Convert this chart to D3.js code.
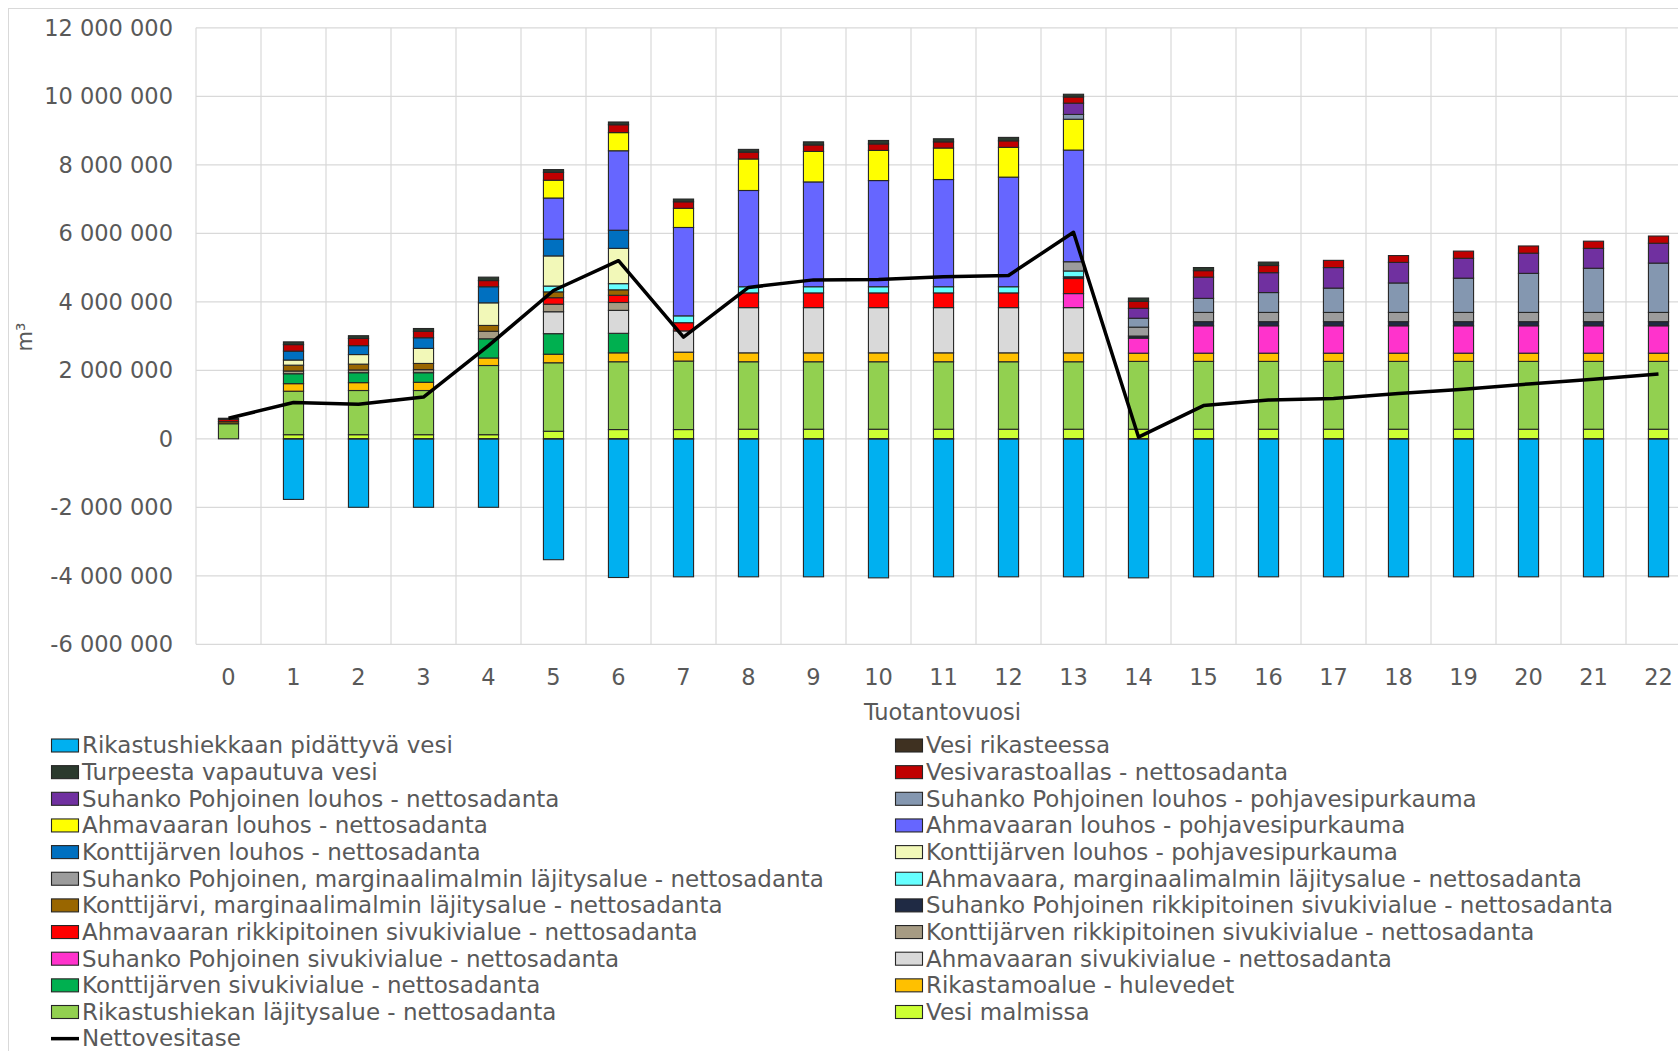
<!DOCTYPE html>
<html>
<head>
<meta charset="utf-8">
<script src="https://cdn.jsdelivr.net/npm/d3@7"></script>
<style>
  body { margin: 0; background: #fff; }
  svg { display: block; }
  text { font-family: "DejaVu Sans", Verdana, sans-serif; fill: #595959; }
</style>
</head>
<body>
<svg id="chart" width="1678" height="1051"></svg>
<script>
// Production years
const categories = ["0","1","2","3","4","5","6","7","8","9","10","11","12","13","14","15","16","17","18","19","20","21","22"];

// Annual water volumes, million m3 per production year
const rikastushiekkaanPidattyvaVesi = [0, -1.76, -1.99, -1.99, -1.99, -3.52, -4.04, -4.02, -4.02, -4.02, -4.05, -4.02, -4.02, -4.02, -4.05, -4.02, -4.02, -4.02, -4.02, -4.02, -4.02, -4.02, -4.02];
const vesiRikasteessa = [0, -0.01, -0.01, -0.01, -0.01, -0.01, -0.01, -0.01, -0.01, -0.01, -0.01, -0.01, -0.01, -0.01, -0.01, -0.01, -0.01, -0.01, -0.01, -0.01, -0.01, -0.01, -0.01];
const turpeestaVapautuvaVesi = [0.03, 0.08, 0.08, 0.08, 0.10, 0.08, 0.08, 0.08, 0.08, 0.09, 0.10, 0.09, 0.10, 0.08, 0.10, 0.09, 0.10, 0, 0, 0, 0, 0, 0];
const vesivarastoallas = [0.07, 0.19, 0.21, 0.19, 0.18, 0.23, 0.23, 0.19, 0.20, 0.19, 0.19, 0.18, 0.19, 0.18, 0.20, 0.19, 0.21, 0.21, 0.20, 0.21, 0.21, 0.21, 0.21];
const suhankoLouhosNetto = [0, 0, 0, 0, 0, 0, 0, 0, 0, 0, 0, 0, 0, 0.33, 0.29, 0.62, 0.58, 0.60, 0.60, 0.58, 0.59, 0.58, 0.58];
const suhankoLouhosPohjavesi = [0, 0, 0, 0, 0, 0, 0, 0, 0, 0, 0, 0, 0, 0.14, 0.26, 0.41, 0.58, 0.71, 0.86, 1.00, 1.14, 1.29, 1.44];
const ahmavaaraLouhosNetto = [0, 0, 0, 0, 0, 0.52, 0.53, 0.56, 0.92, 0.89, 0.88, 0.92, 0.87, 0.90, 0, 0, 0, 0, 0, 0, 0, 0, 0];
const ahmavaaraLouhosPohjavesi = [0, 0, 0, 0, 0, 1.20, 2.32, 2.58, 2.81, 3.06, 3.10, 3.13, 3.20, 3.26, 0, 0, 0, 0, 0, 0, 0, 0, 0];
const konttijarviLouhosNetto = [0, 0.26, 0.26, 0.31, 0.47, 0.49, 0.53, 0, 0, 0, 0, 0, 0, 0, 0, 0, 0, 0, 0, 0, 0, 0, 0];
const konttijarviLouhosPohjavesi = [0, 0.15, 0.28, 0.44, 0.66, 0.88, 1.03, 0, 0, 0, 0, 0, 0, 0, 0, 0, 0, 0, 0, 0, 0, 0, 0];
const suhankoMarginaali = [0, 0, 0, 0, 0, 0, 0, 0, 0, 0, 0, 0, 0, 0.27, 0.26, 0.27, 0.27, 0.27, 0.27, 0.27, 0.27, 0.27, 0.27];
const ahmavaaraMarginaali = [0, 0, 0, 0, 0, 0.17, 0.18, 0.20, 0.18, 0.18, 0.18, 0.18, 0.18, 0.17, 0, 0, 0, 0, 0, 0, 0, 0, 0];
const konttijarviMarginaali = [0.06, 0.17, 0.17, 0.18, 0.17, 0.17, 0.16, 0, 0, 0, 0, 0, 0, 0, 0, 0, 0, 0, 0, 0, 0, 0, 0];
const suhankoRikkipitoinen = [0, 0, 0, 0, 0, 0, 0, 0, 0, 0, 0, 0, 0, 0.05, 0.06, 0.12, 0.12, 0.12, 0.12, 0.12, 0.12, 0.12, 0.12];
const ahmavaaraRikkipitoinen = [0, 0, 0, 0, 0, 0.19, 0.21, 0.24, 0.43, 0.43, 0.43, 0.43, 0.43, 0.44, 0, 0, 0, 0, 0, 0, 0, 0, 0];
const konttijarviRikkipitoinen = [0, 0.08, 0.08, 0.09, 0.22, 0.22, 0.23, 0, 0, 0, 0, 0, 0, 0, 0, 0, 0, 0, 0, 0, 0, 0, 0];
const suhankoSivukivi = [0, 0, 0, 0, 0, 0, 0, 0, 0, 0, 0, 0, 0, 0.41, 0.44, 0.80, 0.80, 0.80, 0.80, 0.80, 0.80, 0.80, 0.80];
const ahmavaaraSivukivi = [0, 0, 0, 0, 0, 0.64, 0.67, 0.62, 1.32, 1.32, 1.32, 1.32, 1.32, 1.32, 0, 0, 0, 0, 0, 0, 0, 0, 0];
const konttijarviSivukivi = [0, 0.29, 0.29, 0.28, 0.56, 0.60, 0.57, 0, 0, 0, 0, 0, 0, 0, 0, 0, 0, 0, 0, 0, 0, 0, 0];
const rikastamoHulevedet = [0, 0.22, 0.23, 0.24, 0.22, 0.25, 0.26, 0.26, 0.26, 0.26, 0.26, 0.26, 0.26, 0.26, 0.24, 0.24, 0.24, 0.24, 0.24, 0.24, 0.24, 0.24, 0.24];
const rikastushiekanLajitysalue = [0.44, 1.27, 1.29, 1.29, 2.02, 2.00, 1.98, 2.00, 1.97, 1.97, 1.97, 1.97, 1.97, 1.97, 1.98, 1.98, 1.98, 1.98, 1.98, 1.98, 1.98, 1.98, 1.98];
const vesiMalmissa = [0, 0.12, 0.12, 0.12, 0.12, 0.22, 0.27, 0.27, 0.28, 0.28, 0.28, 0.28, 0.28, 0.28, 0.28, 0.28, 0.28, 0.28, 0.28, 0.28, 0.28, 0.28, 0.28];
const nettovesitase = [0.60, 1.06, 1.01, 1.22, 2.72, 4.33, 5.20, 2.97, 4.42, 4.64, 4.65, 4.73, 4.77, 6.03, 0.05, 0.97, 1.13, 1.18, 1.32, 1.45, 1.60, 1.74, 1.89];

// Y axis tick values (m3)
const yTicks = [-6000000, -4000000, -2000000, 0, 2000000, 4000000, 6000000, 8000000, 10000000, 12000000];

const UNIT = 1e6;

// Bar series in legend order
const barSeries = [
  { name: "Rikastushiekkaan pidättyvä vesi", values: rikastushiekkaanPidattyvaVesi, color: "#00b0f0" },
  { name: "Vesi rikasteessa", values: vesiRikasteessa, color: "#3f3121" },
  { name: "Turpeesta vapautuva vesi", values: turpeestaVapautuvaVesi, color: "#2b3a2e" },
  { name: "Vesivarastoallas - nettosadanta", values: vesivarastoallas, color: "#c00000" },
  { name: "Suhanko Pohjoinen louhos - nettosadanta", values: suhankoLouhosNetto, color: "#7030a0" },
  { name: "Suhanko Pohjoinen louhos - pohjavesipurkauma", values: suhankoLouhosPohjavesi, color: "#8497b0" },
  { name: "Ahmavaaran louhos - nettosadanta", values: ahmavaaraLouhosNetto, color: "#ffff00" },
  { name: "Ahmavaaran louhos - pohjavesipurkauma", values: ahmavaaraLouhosPohjavesi, color: "#6666ff" },
  { name: "Konttijärven louhos - nettosadanta", values: konttijarviLouhosNetto, color: "#0070c0" },
  { name: "Konttijärven louhos - pohjavesipurkauma", values: konttijarviLouhosPohjavesi, color: "#f2f8b8" },
  { name: "Suhanko Pohjoinen, marginaalimalmin läjitysalue - nettosadanta", values: suhankoMarginaali, color: "#9c9c9c" },
  { name: "Ahmavaara, marginaalimalmin läjitysalue - nettosadanta", values: ahmavaaraMarginaali, color: "#66ffff" },
  { name: "Konttijärvi, marginaalimalmin läjitysalue - nettosadanta", values: konttijarviMarginaali, color: "#996600" },
  { name: "Suhanko Pohjoinen rikkipitoinen sivukivialue - nettosadanta", values: suhankoRikkipitoinen, color: "#1f2a44" },
  { name: "Ahmavaaran rikkipitoinen sivukivialue - nettosadanta", values: ahmavaaraRikkipitoinen, color: "#ff0000" },
  { name: "Konttijärven rikkipitoinen sivukivialue - nettosadanta", values: konttijarviRikkipitoinen, color: "#a69b83" },
  { name: "Suhanko Pohjoinen sivukivialue - nettosadanta", values: suhankoSivukivi, color: "#ff33cc" },
  { name: "Ahmavaaran sivukivialue - nettosadanta", values: ahmavaaraSivukivi, color: "#d9d9d9" },
  { name: "Konttijärven sivukivialue - nettosadanta", values: konttijarviSivukivi, color: "#00b050" },
  { name: "Rikastamoalue - hulevedet", values: rikastamoHulevedet, color: "#ffc000" },
  { name: "Rikastushiekan läjitysalue - nettosadanta", values: rikastushiekanLajitysalue, color: "#92d050" },
  { name: "Vesi malmissa", values: vesiMalmissa, color: "#ccff33" }
];
const lineSeries = { name: "Nettovesitase", values: nettovesitase, color: "#000000" };

const svg = d3.select("#chart");

// Chart area frame
svg.append("rect")
  .attr("x", 8.5).attr("y", 8.5).attr("width", 1720).attr("height", 1100)
  .attr("fill", "#fff").attr("stroke", "#d9d9d9").attr("stroke-width", 1);

const plot = { left: 196, top: 27.8, bottom: 644.3, step: 65 };
plot.right = plot.left + plot.step * categories.length;

const x = d3.scaleBand()
  .domain(categories)
  .range([plot.left, plot.right])
  .paddingInner(0.69)
  .paddingOuter(0.345);

const y = d3.scaleLinear()
  .domain([yTicks[0], yTicks[yTicks.length - 1]])
  .range([plot.bottom, plot.top]);

const fiLocale = d3.formatLocale({ decimal: ",", thousands: " ", grouping: [3], currency: ["", " €"], minus: "-" });
const fmt = fiLocale.format(",d");

// Gridlines
const grid = svg.append("g");
grid.selectAll("line.h").data(yTicks).join("line")
  .attr("x1", plot.left).attr("x2", plot.right)
  .attr("y1", d => y(d)).attr("y2", d => y(d))
  .attr("stroke", "#d9d9d9").attr("stroke-width", 1.2);
const halfGap = (x.step() - x.bandwidth()) / 2;
const vBounds = categories.map(c => x(c) - halfGap).concat([x(categories[categories.length - 1]) + x.bandwidth() + halfGap]);
grid.selectAll("line.v").data(vBounds).join("line")
  .attr("x1", d => d).attr("x2", d => d)
  .attr("y1", plot.top).attr("y2", plot.bottom)
  .attr("stroke", "#d9d9d9").attr("stroke-width", 1.2);

// Stacked bars: bottom of the positive stack is the last legend entry
const rows = categories.map((c, i) => {
  const r = { cat: c };
  barSeries.forEach(s => { r[s.name] = s.values[i] * UNIT; });
  return r;
});
const stackKeys = barSeries.map(s => s.name).reverse();
const stacked = d3.stack().keys(stackKeys).offset(d3.stackOffsetDiverging)(rows);
const colorOf = new Map(barSeries.map(s => [s.name, s.color]));

const bars = svg.append("g");
stacked.forEach(layer => {
  bars.append("g")
    .attr("fill", colorOf.get(layer.key))
    .selectAll("rect")
    .data(layer.filter(d => d[1] !== d[0]))
    .join("rect")
    .attr("x", d => x(d.data.cat))
    .attr("width", x.bandwidth())
    .attr("y", d => y(Math.max(d[0], d[1])))
    .attr("height", d => Math.abs(y(d[0]) - y(d[1])))
    .attr("stroke", "#262626")
    .attr("stroke-width", 1.1);
});

// Net water balance line
const line = d3.line()
  .x((d, i) => x(categories[i]) + x.bandwidth() / 2)
  .y(d => y(d * UNIT));
svg.append("path")
  .attr("d", line(lineSeries.values))
  .attr("fill", "none")
  .attr("stroke", lineSeries.color)
  .attr("stroke-width", 3.5)
  .attr("stroke-linejoin", "round");

// Axes
const yAxis = svg.append("g")
  .attr("transform", `translate(${plot.left},0)`)
  .call(d3.axisLeft(y).tickValues(yTicks).tickFormat(fmt).tickSize(0).tickPadding(23));
yAxis.select(".domain").remove();
yAxis.selectAll("text").style("font-size", "22.5px").attr("fill", "#595959");

const xAxis = svg.append("g")
  .attr("transform", `translate(0,${plot.bottom})`)
  .call(d3.axisBottom(x).tickSize(0).tickPadding(25));
xAxis.select(".domain").remove();
xAxis.selectAll("text").style("font-size", "22.5px").attr("fill", "#595959");

// Axis titles
svg.append("text")
  .attr("x", (plot.left + plot.right) / 2 - 1)
  .attr("y", 720)
  .attr("text-anchor", "middle")
  .style("font-size", "22.5px")
  .text("Tuotantovuosi");

svg.append("text")
  .attr("transform", "translate(32,337) rotate(-90)")
  .attr("text-anchor", "middle")
  .style("font-size", "21px")
  .text("m³");

// Legend: two columns, filled row by row
const legendItems = barSeries.map(s => ({ name: s.name, color: s.color, type: "bar" }))
  .concat([{ name: lineSeries.name, color: lineSeries.color, type: "line" }]);
const legendCols = [51, 895];
const legendTop = 745.5, legendRow = 26.65;
const legend = svg.append("g");
legendItems.forEach((item, i) => {
  const lx = legendCols[i % 2];
  const ly = legendTop + Math.floor(i / 2) * legendRow;
  const g = legend.append("g").attr("transform", `translate(${lx},${ly})`);
  if (item.type === "bar") {
    g.append("rect")
      .attr("x", 0.5).attr("y", -6.5).attr("width", 27).attr("height", 13)
      .attr("fill", item.color).attr("stroke", "#262626").attr("stroke-width", 1.1);
  } else {
    g.append("line")
      .attr("x1", 0).attr("x2", 28).attr("y1", 0).attr("y2", 0)
      .attr("stroke", item.color).attr("stroke-width", 3.5);
  }
  g.append("text")
    .attr("x", 31).attr("y", 0).attr("dy", "0.34em")
    .style("font-size", "23px")
    .text(item.name);
});
</script>
</body>
</html>
